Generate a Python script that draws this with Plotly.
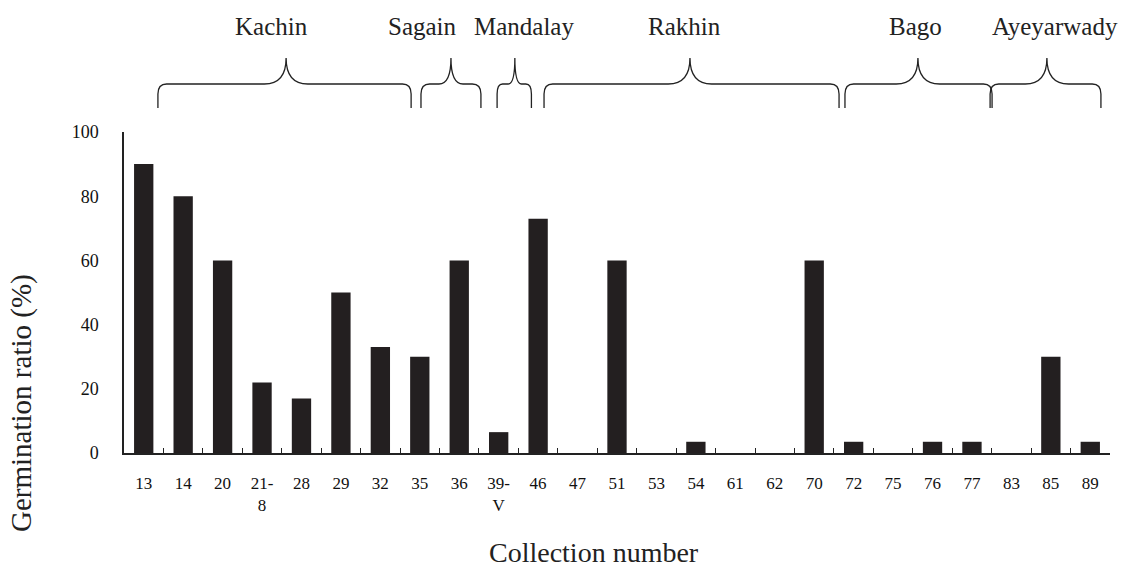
import plotly.graph_objects as go

# ---- data ----
collections = ["13", "14", "20", "21-<br>8", "28", "29", "32", "35", "36", "39-<br>V",
               "46", "47", "51", "53", "54", "61", "62", "70", "72", "75",
               "76", "77", "83", "85", "89"]
germination = [90, 80, 60, 22, 17, 50, 33, 30, 60, 6.5,
               73, 0, 60, 0, 3.5, 0, 0, 60, 3.5, 0,
               3.5, 3.5, 0, 30, 3.5]
regions = ["Kachin", "Sagain", "Mandalay", "Rakhin", "Bago", "Ayeyarwady"]
y_ticks = [0, 20, 40, 60, 80, 100]

# ---- layout geometry for the region braces (category-index units) ----
brace_left = [0.36, 7.03, 8.96, 10.15, 17.78, 21.46]
brace_tip = [3.61, 7.79, 9.41, 13.85, 19.63, 22.90]
brace_right = [6.78, 8.55, 9.83, 17.63, 21.51, 24.27]
label_x = [3.24, 7.08, 9.64, 13.72, 19.57, 23.10]

Y_END, Y_BEND, Y_H, Y_TIP, Y_LAB = 1.075, 1.118, 1.1495, 1.2305, 1.33

SERIF = "Liberation Serif, Times New Roman, serif"
INK = "#231f20"

fig = go.Figure()
fig.add_trace(go.Bar(
    x=collections, y=germination,
    marker=dict(color=INK, line=dict(width=0)),
    width=0.49,
))
# invisible overlay linear axis used only to place braces
fig.add_trace(go.Scatter(x=[-0.5, 24.5], y=[0, 0], xaxis="x2", mode="markers",
                         marker=dict(opacity=0), hoverinfo="skip", showlegend=False))

shapes = []
for xl, xt, xr in zip(brace_left, brace_tip, brace_right):
    r = min(0.22, (xt - xl) / 3, (xr - xt) / 3)
    rt = min(0.55, (xt - xl) / 2.5, (xr - xt) / 2.5)
    path = (f"M {xl},{Y_END} L {xl},{Y_BEND} Q {xl},{Y_H} {xl + r},{Y_H} "
            f"L {xt - rt},{Y_H} Q {xt},{Y_H} {xt},{Y_TIP} "
            f"Q {xt},{Y_H} {xt + rt},{Y_H} L {xr - r},{Y_H} "
            f"Q {xr},{Y_H} {xr},{Y_BEND} L {xr},{Y_END}")
    shapes.append(dict(type="path", path=path, xref="x2", yref="paper",
                       line=dict(color="#222", width=1.3)))

annotations = []
for name, lx in zip(regions, label_x):
    annotations.append(dict(text=name, x=lx, y=Y_LAB, xref="x2", yref="paper",
                            showarrow=False, xanchor="center", yanchor="middle",
                            font=dict(family=SERIF, size=25, color="#222")))
annotations.append(dict(text="Collection number", x=0.4767, y=-0.3115, xref="paper", yref="paper",
                        showarrow=False, xanchor="center", yanchor="middle",
                        font=dict(family=SERIF, size=28, color="#222")))
annotations.append(dict(text="Germination ratio (%)", x=-0.1034, y=0.156, xref="paper", yref="paper",
                        showarrow=False, xanchor="center", yanchor="middle", textangle=-90,
                        font=dict(family=SERIF, size=29, color="#222")))

fig.update_layout(
    width=1128, height=573,
    margin=dict(l=124, r=18, t=132, b=120),
    plot_bgcolor="white", paper_bgcolor="white",
    showlegend=False,
    bargap=0.51,
    shapes=shapes, annotations=annotations,
    xaxis=dict(type="category", range=[-0.5, 24.5], showline=True, linecolor="#222", linewidth=1.5,
               ticks="inside", tickson="boundaries", ticklen=5, tickcolor="#222", tickwidth=1,
               showgrid=False, zeroline=False, ticklabelstandoff=14,
               tickfont=dict(family=SERIF, size=17, color="#111")),
    xaxis2=dict(overlaying="x", range=[-0.5, 24.5], visible=False, type="linear"),
    yaxis=dict(range=[0, 100], tickvals=y_ticks, showline=True, linecolor="#222", linewidth=1.5,
               ticks="", showgrid=False, zeroline=False, ticklabelstandoff=20,
               tickfont=dict(family=SERIF, size=18, color="#111")),
)

fig.write_html("out.html", config={"displayModeBar": False},
               post_script="document.body.style.margin='0';document.body.style.padding='0';"
                           "document.body.style.overflow='hidden';")
